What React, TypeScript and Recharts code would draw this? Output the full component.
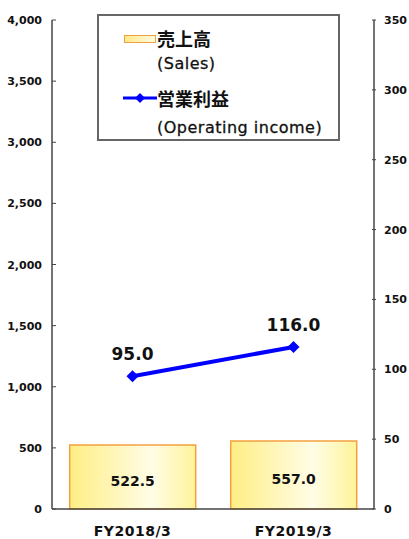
import { ComposedChart, Bar, Line, XAxis, YAxis, LabelList, Legend } from 'recharts';

const categories = ['FY2018/3', 'FY2019/3'];
const salesValues = [522.5, 557.0];
const operatingIncome = [95.0, 116.0];
const leftTicks = [0, 500, 1000, 1500, 2000, 2500, 3000, 3500, 4000];
const rightTicks = [0, 50, 100, 150, 200, 250, 300, 350];

const data = categories.map((name, i) => ({
    name,
    sales: salesValues[i],
    income: operatingIncome[i],
}));

const FONT = '"DejaVu Sans", Verdana, sans-serif';
const JP = '"Noto Sans CJK JP", sans-serif';

const LeftTick = ({ x, y, payload }: any) => (
    <g>
        <line x1={x + 10} x2={x + 14} y1={y} y2={y} stroke="#444" strokeWidth={1} />
        <text x={x} y={y} dy={4} textAnchor="end" fontFamily={FONT} fontWeight="bold" fontSize={11} fill="#111">
            {payload.value.toLocaleString('en-US')}
        </text>
    </g>
);

const RightTick = ({ x, y, payload }: any) => (
    <g>
        <line x1={x - 12} x2={x - 8} y1={y} y2={y} stroke="#444" strokeWidth={1} />
        <text x={x} y={y} dy={4} textAnchor="start" fontFamily={FONT} fontWeight="bold" fontSize={11} fill="#111">
            {payload.value}
        </text>
    </g>
);

const LegendBox = () => (
    <div
        style={{
            position: 'absolute',
            left: 97,
            top: 14,
            width: 243,
            height: 127,
            border: '2px solid #666',
            background: '#fff',
            boxSizing: 'border-box',
        }}
    >
        <div style={{ position: 'absolute', left: 25, top: 19, width: 30, height: 6, border: '1px solid #f0a040', background: 'linear-gradient(90deg,#ffe98a,#fffbe0)' }} />
        <div style={{ position: 'absolute', left: 58, top: 10, fontFamily: JP, fontWeight: 'bold', fontSize: 18, color: '#111', lineHeight: '24px' }}>売上高</div>
        <div style={{ position: 'absolute', left: 58, top: 38, fontFamily: FONT, fontSize: 16, letterSpacing: 0.5, color: '#111', lineHeight: '20px', WebkitTextStroke: '0.3px #111' }}>(Sales)</div>
        <svg style={{ position: 'absolute', left: 24, top: 76 }} width={34} height={12}>
            <line x1={0} x2={34} y1={6} y2={6} stroke="#0000ff" strokeWidth={3} />
            <polygon points="17,1 22,6 17,11 12,6" fill="#0000ff" />
        </svg>
        <div style={{ position: 'absolute', left: 58, top: 70, fontFamily: JP, fontWeight: 'bold', fontSize: 18, color: '#111', lineHeight: '24px' }}>営業利益</div>
        <div style={{ position: 'absolute', left: 58, top: 102, fontFamily: FONT, fontSize: 16, letterSpacing: 0.5, color: '#111', lineHeight: '20px', WebkitTextStroke: '0.3px #111' }}>(Operating income)</div>
    </div>
);

const Diamond = ({ cx, cy }: any) => (
    <polygon points={`${cx},${cy - 6} ${cx + 6},${cy} ${cx},${cy + 6} ${cx - 6},${cy}`} fill="#0000ff" />
);

const BarValue = (p: any) => (
    <text
        x={p.x + p.width / 2}
        y={p.y + p.height / 2 + 9}
        textAnchor="middle"
        fontFamily={FONT}
        fontWeight="bold"
        fontSize={14}
        fill="#111"
    >
        {Number(p.value).toFixed(1)}
    </text>
);

export default function App() {
    return (
        <div style={{ position: 'absolute', left: 0, top: 0, width: 409, height: 539, background: '#fff' }}>
            <ComposedChart width={409} height={539} data={data} margin={{ top: 20, right: 0, left: 0, bottom: 0 }} barCategoryGap="11%">
                <defs>
                    <linearGradient id="salesFill" x1="0" y1="0" x2="1" y2="0">
                        <stop offset="0%" stopColor="#ffee84" />
                        <stop offset="65%" stopColor="#fffde6" />
                        <stop offset="100%" stopColor="#fff39a" />
                    </linearGradient>
                </defs>
                <XAxis
                    dataKey="name"
                    height={30}
                    stroke="#444"
                    strokeWidth={1.5}
                    tickLine={false}
                    tickMargin={11}
                    tick={{ fontFamily: FONT, fontWeight: 'bold', fontSize: 14, letterSpacing: 0.5, fill: '#111' }}
                />
                <YAxis
                    yAxisId="left"
                    orientation="left"
                    width={52}
                    domain={[0, 4000]}
                    ticks={leftTicks}
                    interval={0}
                    stroke="#444"
                    strokeWidth={1.5}
                    tickSize={0}
                    tickMargin={10}
                    tick={<LeftTick />}
                />
                <YAxis
                    yAxisId="right"
                    orientation="right"
                    width={35}
                    domain={[0, 350]}
                    ticks={rightTicks}
                    interval={0}
                    stroke="#444"
                    strokeWidth={1.5}
                    tickSize={0}
                    tickMargin={10}
                    tick={<RightTick />}
                />
                <Legend content={<LegendBox />} wrapperStyle={{ position: 'absolute', left: 0, top: 0, width: 0, height: 0 }} />
                <Bar yAxisId="left" dataKey="sales" fill="url(#salesFill)" stroke="#f5a040" strokeWidth={1.5} isAnimationActive={false}>
                    <LabelList dataKey="sales" content={<BarValue />} />
                </Bar>
                <Line
                    yAxisId="right"
                    dataKey="income"
                    stroke="#0000ff"
                    strokeWidth={4}
                    dot={<Diamond />}
                    activeDot={false}
                    isAnimationActive={false}
                >
                    <LabelList
                        dataKey="income"
                        position="top"
                        offset={16}
                        formatter={(v: any) => Number(v).toFixed(1)}
                        style={{ fontFamily: FONT, fontWeight: 'bold', fontSize: 17, fill: '#111' }}
                    />
                </Line>
            </ComposedChart>
        </div>
    );
}
